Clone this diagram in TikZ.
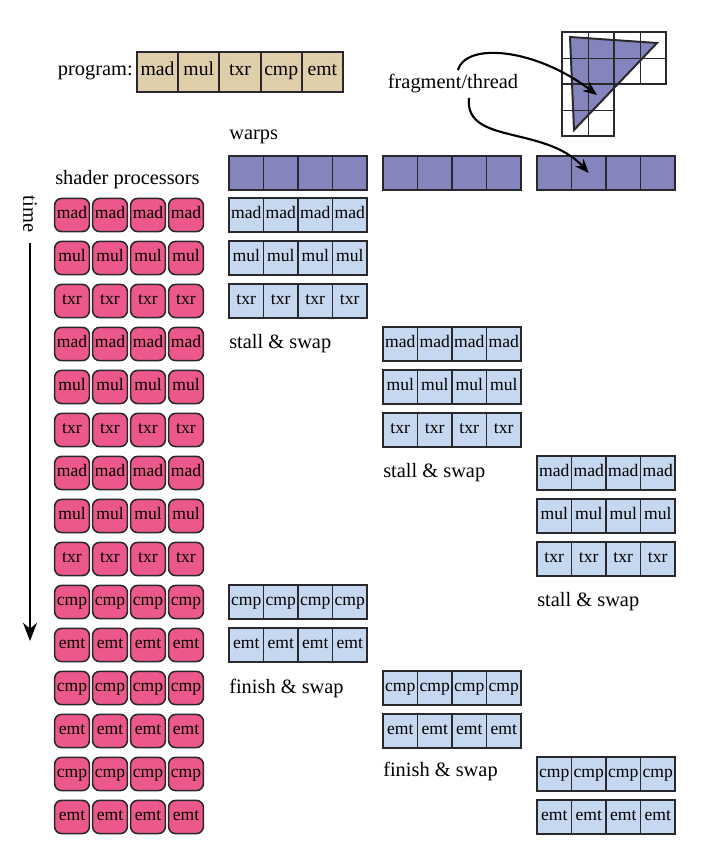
\documentclass[tikz,border=0pt]{standalone}
\usepackage{fontspec}
\setmainfont{Liberation Serif}
\usetikzlibrary{arrows.meta}
\definecolor{sppink}{RGB}{236,88,140}
\definecolor{warpblue}{RGB}{198,216,240}
\definecolor{warppurple}{RGB}{133,133,190}
\definecolor{progtan}{RGB}{222,206,170}
\definecolor{edge}{RGB}{40,40,45}
\tikzset{
  spbox/.style={draw=edge, line width=1.1pt, fill=sppink, rounded corners=5pt,
    minimum width=0.87cm, minimum height=0.83cm, inner sep=0pt, text height=0.68em, text depth=0.2em,
    font=\fontsize{12.5}{13}\selectfont},
  wcell/.style={draw=edge, line width=1.3pt, fill=warpblue,
    minimum width=0.8625cm, minimum height=0.86cm, inner sep=0pt, text height=0.68em, text depth=0.2em,
    font=\fontsize{12.5}{13}\selectfont},
  wpurple/.style={wcell, fill=warppurple},
  pcell/.style={draw=edge, line width=1.3pt, fill=progtan,
    minimum width=1.03cm, minimum height=1cm, inner sep=0pt, text height=0.68em, text depth=0.2em,
    font=\fontsize{14}{15}\selectfont},
  lbl/.style={inner sep=0pt, font=\fontsize{14.5}{15}\selectfont},
  fragarrow/.style={line width=1.5pt, -{Stealth[length=10pt,width=8pt]}},
}
% one row of a warp: name, left x, row, instruction
\def\warprow#1#2#3#4{%
  \foreach \c in {0,...,3}
    \node[wcell] (#1-\c) at ({#2+17.25+34.5*\c},{215+43*#3}) {#4};}

\begin{document}
\begin{tikzpicture}[x=0.025cm,y=-0.025cm]
  %%%%% START %%%%%
  \useasboundingbox (0,0) rectangle (715,853);

  % program
  \node[lbl, anchor=east] (proglbl) at (133,72) {program:};
  \foreach \op [count=\i from 0] in {mad,mul,txr,cmp,emt}
    \node[pcell] (prog-\i) at ({157.6+41.2*\i},72) {\op};

  % shader processors
  \node[lbl, anchor=west] (splbl) at (55,180) {shader processors};
  \foreach \op [count=\r from 0] in {mad,mul,txr,mad,mul,txr,mad,mul,txr,cmp,emt,cmp,emt,cmp,emt}
    \foreach \c in {0,...,3}
      \node[spbox] (sp-\r-\c) at ({72+38*\c},{215+43*\r}) {\op};

  % time
  \node[lbl, rotate=-90] (timelbl) at (30,214) {time};
  \coordinate (time-a) at (30,243);
  \coordinate (time-b) at (30,641);
  \draw[line width=1.1pt, -{Stealth[length=13pt,width=10pt]}] (time-a) -- (time-b);

  % warps
  \node[lbl, anchor=west] (warplbl) at (229,137) {warps};
  \foreach \w/\x in {0/229,1/383,2/537}
    \foreach \c in {0,...,3}
      \node[wpurple] (warp\w-\c) at ({\x+17.25+34.5*\c},173) {};

  % first warp
  \warprow{wa0}{229}{0}{mad}
  \warprow{wa1}{229}{1}{mul}
  \warprow{wa2}{229}{2}{txr}
  \warprow{wa3}{229}{9}{cmp}
  \warprow{wa4}{229}{10}{emt}
  \node[lbl, anchor=west] (stall0) at (229,344) {stall \& swap};
  \node[lbl, anchor=west] (finish0) at (229,688) {finish \& swap};

  % second warp
  \warprow{wb0}{383}{3}{mad}
  \warprow{wb1}{383}{4}{mul}
  \warprow{wb2}{383}{5}{txr}
  \warprow{wb3}{383}{11}{cmp}
  \warprow{wb4}{383}{12}{emt}
  \node[lbl, anchor=west] (stall1) at (383,473) {stall \& swap};
  \node[lbl, anchor=west] (finish1) at (383,771) {finish \& swap};

  % third warp
  \warprow{wc0}{537}{6}{mad}
  \warprow{wc1}{537}{7}{mul}
  \warprow{wc2}{537}{8}{txr}
  \warprow{wc3}{537}{13}{cmp}
  \warprow{wc4}{537}{14}{emt}
  \node[lbl, anchor=west] (stall2) at (537,602) {stall \& swap};

  % triangle over the pixel grid
  \fill[white] (562,32) rectangle (666,84);
  \fill[white] (562,84) rectangle (614,136);
  \fill[warppurple] (570,37) -- (657,43) -- (574,130) -- cycle;
  \draw[line width=0.7pt, edge] (588,32) -- (588,136);
  \draw[line width=0.7pt, edge] (640,32) -- (640,84);
  \draw[line width=0.7pt, edge] (562,58) -- (666,58);
  \draw[line width=0.7pt, edge] (562,110) -- (614,110);
  \draw[line width=1.4pt, edge] (562,32) -- (666,32) -- (666,84) -- (614,84) -- (614,136)
    -- (562,136) -- cycle;
  \draw[line width=1.4pt, edge] (614,32) -- (614,84) -- (562,84);
  \draw[line width=1.4pt, edge, line join=miter] (570,37) -- (657,43) -- (574,130) -- cycle;

  % fragment/thread
  \node[lbl] (frag) at (453,84) {fragment/thread};
  \coordinate (pixel) at (597,95);
  \draw[fragarrow] ([xshift=0.12cm,yshift=3pt]frag.north) .. controls (466,42) and (535,48) .. (pixel);
  \draw[fragarrow] ([xshift=0.4cm,yshift=-3pt]frag.south) .. controls (464,145) and (545,125) .. (warp2-1.center);

  %%%%% END %%%%%
\end{tikzpicture}
\end{document}
